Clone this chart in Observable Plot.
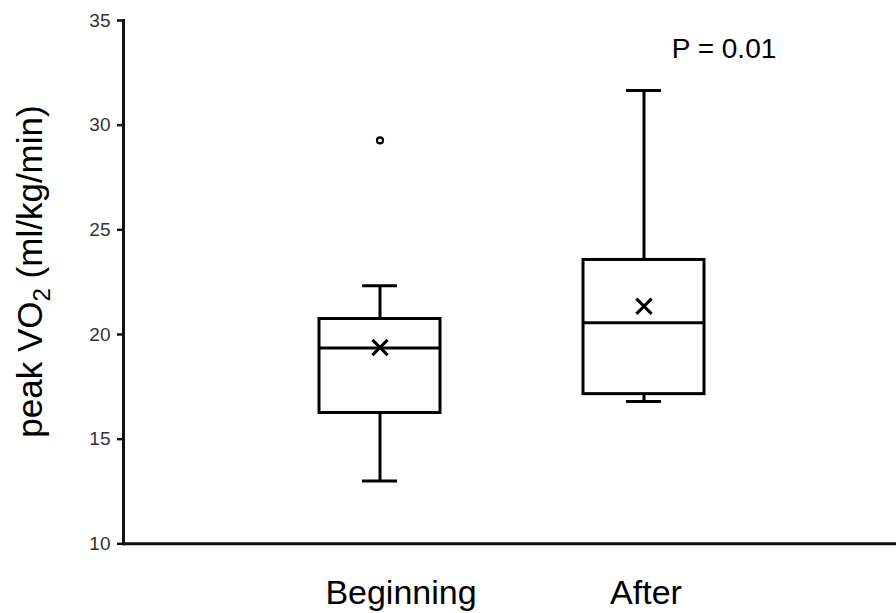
<!DOCTYPE html>
<html>
<head>
<meta charset="utf-8">
<script src="https://cdn.jsdelivr.net/npm/d3@7"></script>
<script src="https://cdn.jsdelivr.net/npm/@observablehq/plot@0.6"></script>
<style>
  html, body { margin: 0; padding: 0; background: #fff; }
  #chart { width: 896px; height: 613px; }
</style>
</head>
<body>
<div id="chart"></div>
<script>
// ---- data ----
const groups  = ["Beginning", "After"];
const whiskerLow  = [13.0, 16.8];
const q1          = [16.25, 17.15];
const median      = [19.36, 20.56];
const q3          = [20.74, 23.56];
const whiskerHigh = [22.33, 31.65];
const means       = [19.38, 21.35];
const outlierGroup = ["Beginning"];
const outlierValue = [29.27];
const yTicks = [10, 15, 20, 25, 30, 35];
const pLabel = "P = 0.01";
const pLabelGroup = "After";
const pLabelValue = 33.62;

const stats = groups.map((g, i) => ({
  group: g, lo: whiskerLow[i], q1: q1[i], med: median[i], q3: q3[i], hi: whiskerHigh[i], mean: means[i]
}));
const outliers = outlierGroup.map((g, i) => ({group: g, value: outlierValue[i]}));

const SW = 3;
const chart = Plot.plot({
  width: 896,
  height: 613,
  marginTop: 20,
  marginBottom: 69.7,
  marginLeft: 123,
  marginRight: 0,
  style: {fontFamily: "Liberation Sans, Arial, sans-serif", background: "#fff"},
  x: {type: "band", domain: groups, paddingInner: 0.542, paddingOuter: 0.735, align: 0.506, axis: null},
  y: {domain: [10, 35], axis: null},
  marks: [
    Plot.axisY({ticks: yTicks, tickSize: 6, tickPadding: 7, fontSize: 19, color: "#333", strokeWidth: 2.5, label: null, stroke: "#111"}),
    Plot.axisX(["Beginning"], {tickSize: 0, tickPadding: 36, fontSize: 34, dx: 21, label: null, color: "#000"}),
    Plot.axisX(["After"], {tickSize: 0, tickPadding: 36, fontSize: 34, dx: 2, label: null, color: "#000"}),
    Plot.frame({anchor: "left", stroke: "#111", strokeWidth: SW}),
    Plot.ruleY([10], {stroke: "#111", strokeWidth: SW}),
    // whiskers
    Plot.ruleX(stats, {x: "group", y1: "q3", y2: "hi", stroke: "#000", strokeWidth: SW}),
    Plot.ruleX(stats, {x: "group", y1: "lo", y2: "q1", stroke: "#000", strokeWidth: SW}),
    Plot.tickY(stats, {x: "group", y: "hi", insetLeft: 43, insetRight: 43, stroke: "#000", strokeWidth: SW}),
    Plot.tickY(stats, {x: "group", y: "lo", insetLeft: 43, insetRight: 43, stroke: "#000", strokeWidth: SW}),
    // boxes
    Plot.barY(stats, {x: "group", y1: "q1", y2: "q3", fill: "#fff", stroke: "#000", strokeWidth: SW}),
    Plot.tickY(stats, {x: "group", y: "med", stroke: "#000", strokeWidth: SW}),
    Plot.dot(stats, {x: "group", y: "mean", symbol: "times", r: 7, stroke: "#000", strokeWidth: SW}),
    // outlier
    Plot.dot(outliers, {x: "group", y: "value", r: 3, fill: "#fff", stroke: "#000", strokeWidth: 2.2}),
    // annotation
    Plot.text([pLabel], {x: () => pLabelGroup, y: () => pLabelValue, dx: 80, fontSize: 28, fill: "#000", textAnchor: "middle", lineAnchor: "middle"})
  ]
});
document.getElementById("chart").appendChild(chart);

// y-axis title with subscript
const svg = d3.select(chart);
const t = svg.append("text")
  .attr("transform", "translate(42,271.5) rotate(-90)")
  .attr("text-anchor", "middle")
  .attr("font-family", "Liberation Sans, Arial, sans-serif")
  .attr("font-size", 35)
  .attr("fill", "#000");
t.append("tspan").text("peak VO");
t.append("tspan").attr("font-size", 24).attr("dy", 8).text("2");
t.append("tspan").attr("dy", -8).text(" (ml/kg/min)");
</script>
</body>
</html>
